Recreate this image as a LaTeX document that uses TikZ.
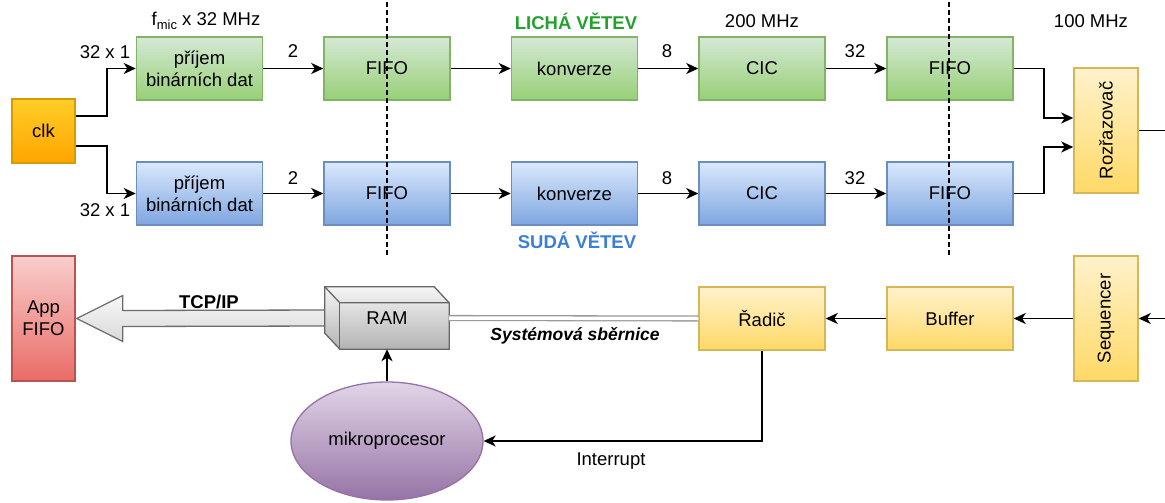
\documentclass[tikz,border=0pt]{standalone}
\usepackage{fontspec}
\setmainfont{Liberation Sans}
\usetikzlibrary{arrows.meta,calc,shapes.geometric}

% fills: top colour, bottom colour, stroke
\definecolor{grnT}{HTML}{D5E8D4}\definecolor{grnB}{HTML}{97D077}\definecolor{grnS}{HTML}{82B366}
\definecolor{bluT}{HTML}{DAE8FC}\definecolor{bluB}{HTML}{7EA6E0}\definecolor{bluS}{HTML}{6C8EBF}
\definecolor{yelT}{HTML}{FFF2CC}\definecolor{yelB}{HTML}{FFD966}\definecolor{yelS}{HTML}{D6B656}
\definecolor{orgT}{HTML}{FFCD28}\definecolor{orgB}{HTML}{FFA500}\definecolor{orgS}{HTML}{D79B00}
\definecolor{redT}{HTML}{F8CECC}\definecolor{redB}{HTML}{EA6B66}\definecolor{redS}{HTML}{B85450}
\definecolor{gryT}{HTML}{F5F5F5}\definecolor{gryB}{HTML}{B3B3B3}\definecolor{gryS}{HTML}{666666}
\definecolor{purT}{HTML}{E1D5E7}\definecolor{purB}{HTML}{9673A6}\definecolor{purS}{HTML}{9673A6}
\definecolor{oddC}{HTML}{22A12C}
\definecolor{evenC}{HTML}{3A7ED8}
\definecolor{busC}{HTML}{999999}

\newcommand{\lab}{\fontsize{18.5}{22}\selectfont}

\tikzset{
  x=1pt, y=-1pt,
  box/.style={draw, line width=1.5pt, minimum width=126pt, minimum height=63pt,
              inner sep=0pt, align=center, font=\lab},
  gbox/.style={box, draw=grnS, top color=grnT, bottom color=grnB},
  bbox/.style={box, draw=bluS, top color=bluT, bottom color=bluB},
  ybox/.style={box, draw=yelS, top color=yelT, bottom color=yelB},
  tallbox/.style={box, minimum width=64pt, minimum height=125pt},
  lbl/.style={font=\lab, inner sep=0pt},
  arr/.style={draw=black, line width=1.9pt, -{Stealth[length=12pt,width=11pt,inset=3.5pt]}},
  wire/.style={draw=black, line width=1.9pt},
  bus/.style={draw=busC, line width=1.3pt, double=white, double distance=3.5pt},
  bound/.style={draw=black, line width=1.3pt, dash pattern=on 5pt off 3pt},
  bigarrow/.style={draw=gray!85!black, line width=1.3pt, top color=gray!6, bottom color=gray!30},
  cube/.style={draw=gryS, line width=1.3pt, top color=gryT, bottom color=gryB},
}

\begin{document}
\begin{tikzpicture}
\useasboundingbox (0,0) rectangle (1165,503);

% clock source
\node[box, minimum width=63pt, minimum height=64pt, draw=orgS, top color=orgT, bottom color=orgB] (clk) at (43.5,131) {clk};

% odd branch
\node[gbox] (rxg)  at (199.5,68.5) {příjem\\binárních dat};
\node[gbox] (fg1)  at (387,68.5)   {FIFO};
\node[gbox] (kg)   at (574.5,68.5) {konverze};
\node[gbox] (cg)   at (762,68.5)   {CIC};
\node[gbox] (fg2)  at (950,68.5)   {FIFO};

% even branch
\node[bbox] (rxb)  at (199.5,193.5) {příjem\\binárních dat};
\node[bbox] (fb1)  at (387,193.5)   {FIFO};
\node[bbox] (kb)   at (574.5,193.5) {konverze};
\node[bbox] (cb)   at (762,193.5)   {CIC};
\node[bbox] (fb2)  at (950,193.5)   {FIFO};

% sorter and output chain
\node[ybox, tallbox] (roz) at (1106,130.5) {};
\node[lbl, rotate=90] (rozT) at (roz.center) {Rozřazovač};
\node[ybox, tallbox] (seq) at (1106,318.5) {};
\node[lbl, rotate=90] (seqT) at (seq.center) {Sequencer};
\node[ybox] (buf)   at (950,318.5) {Buffer};
\node[ybox] (radic) at (762,318.5) {Řadič};

\node[box, minimum width=63pt, minimum height=125pt, draw=redS, top color=redT, bottom color=redB] (app) at (43.5,318.5) {App\\FIFO};

% header labels
\node[lbl] (fmic) at (206,21) {f\raisebox{-0.45ex}{\fontsize{13}{13}\selectfont mic} x 32 MHz};
\node[lbl, font=\lab\bfseries, text=oddC] (odd) at (576,21) {LICHÁ VĚTEV};
\node[lbl] (f200) at (762,21) {200 MHz};
\node[lbl] (f100) at (1091,21) {100 MHz};
\node[lbl, font=\lab\bfseries, text=evenC] (even) at (577,240) {SUDÁ VĚTEV};

% clock distribution
\draw[arr] ($(clk.east)+(0,-15)$) -- ++(31,0) |- (rxg.west);
\draw[arr] ($(clk.east)+(0,15)$) -- ++(31,0) |- (rxb.west);
\node[lbl] (w1) at (105,52) {32 x 1};
\node[lbl] (w2) at (105,210) {32 x 1};

% odd branch chain
\draw[arr] (rxg) -- (fg1);
\draw[arr] (fg1) -- (kg);
\draw[arr] (kg) -- (cg);
\draw[arr] (cg) -- (fg2);
\node[lbl] (wg1) at (293,51) {2};
\node[lbl] (wg2) at (667,51) {8};
\node[lbl] (wg3) at (855,51) {32};

% even branch chain
\draw[arr] (rxb) -- (fb1);
\draw[arr] (fb1) -- (kb);
\draw[arr] (kb) -- (cb);
\draw[arr] (cb) -- (fb2);
\node[lbl] (wb1) at (293,178) {2};
\node[lbl] (wb2) at (667,178) {8};
\node[lbl] (wb3) at (855,178) {32};

% into the sorter
\draw[arr] (fg2.east) -- ++(30,0) |- ($(roz.west)+(0,-12.5)$);
\draw[arr] (fb2.east) -- ++(30,0) |- ($(roz.west)+(0,16.5)$);
\coordinate (rozOut) at (1165,130.5);
\draw[wire] (roz.east) -- (rozOut);

% output chain
\coordinate (seqIn) at (1165,318.5);
\draw[arr] (seqIn) -- (seq.east);
\draw[arr] (seq) -- (buf);
\draw[arr] (buf) -- (radic);

% memory block (cube)
\path node[minimum width=124pt, minimum height=62pt, inner sep=0pt] (ram) at (387,318) {};

% TCP/IP transfer arrow
\path[bigarrow] ($(ram.west)+(5,-8)$) -- ($(app.east)+(47,-8)$) -- ($(app.east)+(47,-23)$)
   -- ($(app.east)+(1,0)$) -- ($(app.east)+(47,23)$) -- ($(app.east)+(47,8)$)
   -- ($(ram.west)+(5,8)$) -- cycle;
\node[lbl, font=\lab\bfseries] (tcp) at (209,302) {TCP/IP};

\path[cube] (ram.north west) -- ($(ram.north east)+(-15,0)$) -- ($(ram.north east)+(0,16)$)
   -- (ram.south east) -- ($(ram.south west)+(15,0)$) -- ($(ram.south west)+(0,-16)$) -- cycle;
\draw[draw=gryS, line width=1.3pt] (ram.north west) -- ($(ram.north west)+(15,16)$) -- ($(ram.north east)+(0,16)$);
\draw[draw=gryS, line width=1.3pt] ($(ram.north west)+(15,16)$) -- ($(ram.south west)+(15,0)$);
\node[lbl] (ramT) at (ram.center) {RAM};

% system bus
\draw[bus] (ram.east) -- (radic.west);
\node[lbl, font=\fontsize{17.5}{20}\selectfont\bfseries\itshape] (busT) at (575,336) {Systémová sběrnice};

% processor
\node[ellipse, draw=purS, line width=1.3pt, top color=purT, bottom color=purB,
      minimum width=192pt, minimum height=118pt, inner sep=0pt, font=\lab] (mp) at (387,441) {mikroprocesor};
\draw[arr] (mp.north) -- (ram.south);
\draw[arr] (radic.south) |- (mp.east);
\node[lbl] (irq) at (611,461) {Interrupt};

% clock-domain boundaries
\coordinate (d1t) at (387,2);
\coordinate (d1b) at (387,257);
\coordinate (d2t) at (949,2);
\coordinate (d2b) at (949,257);
\draw[bound] (d1t) -- (d1b);
\draw[bound] (d2t) -- (d2b);
\end{tikzpicture}
\end{document}
